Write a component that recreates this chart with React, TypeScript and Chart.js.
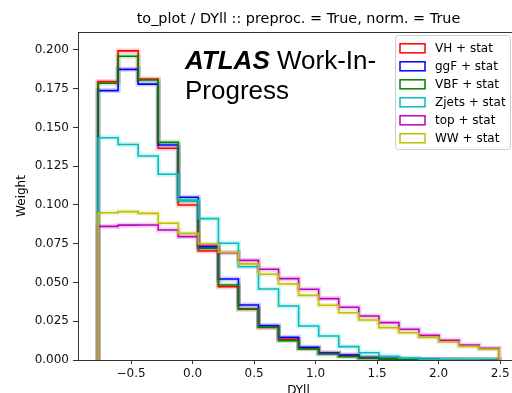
import React, { useEffect, useRef } from "react";
import { Chart, registerables } from "chart.js";

Chart.register(...registerables);

const BIN_EDGES = [-0.768, -0.605, -0.442, -0.279, -0.116, 0.047, 0.21, 0.373, 0.536, 0.699, 0.862, 1.025, 1.188, 1.351, 1.514, 1.677, 1.84, 2.003, 2.166, 2.329, 2.492];

const VH = [0.1796, 0.1994, 0.1813, 0.1366, 0.1, 0.0703, 0.0473, 0.033, 0.021, 0.0133, 0.0075, 0.0045, 0.003, 0.0015, 0.0009, 0.0005, 0.0003, 0.0002, 0.0001, 0.0001];
const GGF = [0.1738, 0.1875, 0.178, 0.1387, 0.105, 0.073, 0.0523, 0.0355, 0.0222, 0.0146, 0.0082, 0.0045, 0.0032, 0.0016, 0.0009, 0.0005, 0.0003, 0.0002, 0.0001, 0.0001];
const VBF = [0.1785, 0.196, 0.1806, 0.1404, 0.1028, 0.072, 0.0484, 0.0327, 0.0211, 0.0125, 0.0072, 0.0039, 0.0022, 0.0012, 0.0007, 0.0004, 0.0002, 0.0001, 0.0001, 0.0];
const ZJETS = [0.1434, 0.139, 0.1316, 0.1198, 0.103, 0.0912, 0.0753, 0.0602, 0.0458, 0.0348, 0.0219, 0.0155, 0.0086, 0.0047, 0.0024, 0.0012, 0.0005, 0.0003, 0.0001, 0.0];
const TOP = [0.0862, 0.087, 0.0871, 0.0839, 0.0796, 0.0742, 0.0692, 0.0643, 0.0585, 0.0525, 0.0456, 0.0396, 0.034, 0.0284, 0.0241, 0.0198, 0.0159, 0.0127, 0.0097, 0.0075];
const WW = [0.095, 0.0957, 0.0946, 0.0882, 0.0817, 0.0748, 0.0695, 0.062, 0.0553, 0.049, 0.0417, 0.0353, 0.0305, 0.0258, 0.0209, 0.0176, 0.0146, 0.0116, 0.0088, 0.0071];

const SERIES_LABELS = ["VH + stat", "ggF + stat", "VBF + stat", "Zjets + stat", "top + stat", "WW + stat"];
const SERIES_VALUES = [VH, GGF, VBF, ZJETS, TOP, WW];
const SERIES_COLORS = ["#ff0000", "#0000ff", "#008000", "#00bfbf", "#bf00bf", "#bfbf00"];
const SERIES_BANDS = ["rgba(255,0,0,0.18)", "rgba(0,0,255,0.18)", "rgba(0,128,0,0.18)", "rgba(0,191,191,0.18)", "rgba(191,0,191,0.18)", "rgba(191,191,0,0.18)"];

const TITLE = "to_plot / DYll :: preproc. = True, norm. = True";
const X_LABEL = "DYll";
const Y_LABEL = "Weight";

function stepPoints(vals: number[]) {
  const pts: { x: number; y: number }[] = [{ x: BIN_EDGES[0], y: 0 }];
  vals.forEach((v, i) => pts.push({ x: BIN_EDGES[i], y: v }));
  pts.push({ x: BIN_EDGES[BIN_EDGES.length - 1], y: 0 });
  return pts;
}

const FONT = "'DejaVu Sans', sans-serif";

const decorPlugin = {
  id: "decor",
  afterDraw(chart: any) {
    const { ctx, chartArea } = chart;
    const { left, right, top, bottom } = chartArea;
    ctx.save();
    // frame
    ctx.strokeStyle = "#333";
    ctx.lineWidth = 1;
    ctx.beginPath();
    ctx.moveTo(left, top + 0.5);
    ctx.lineTo(right, top + 0.5);
    ctx.moveTo(right - 0.5, top);
    ctx.lineTo(right - 0.5, bottom);
    ctx.stroke();

    // title
    ctx.fillStyle = "#000";
    ctx.font = `14.4px ${FONT}`;
    ctx.textAlign = "center";
    ctx.textBaseline = "alphabetic";
    ctx.fillText(TITLE, (left + right) / 2, 23);

    // x label
    ctx.font = `12px ${FONT}`;
    ctx.fillText(X_LABEL, (left + right) / 2, 394);

    // y label
    ctx.save();
    ctx.translate(22, (top + bottom) / 2);
    ctx.rotate(-Math.PI / 2);
    ctx.textBaseline = "middle";
    ctx.fillText(Y_LABEL, 0, 0);
    ctx.restore();

    // ATLAS label
    ctx.textAlign = "left";
    ctx.textBaseline = "alphabetic";
    ctx.font = "italic bold 26px 'Liberation Sans', Arial, sans-serif";
    ctx.fillText("ATLAS", 185, 69);
    const w = ctx.measureText("ATLAS ").width;
    ctx.font = "26px 'Liberation Sans', Arial, sans-serif";
    ctx.fillText("Work-In-", 185 + w, 69);
    ctx.fillText("Progress", 185, 99);

    // legend
    const lx = 395.5, ly = 35.5, lw = 115, lh = 114;
    ctx.fillStyle = "rgba(255,255,255,0.8)";
    ctx.strokeStyle = "#cccccc";
    ctx.lineWidth = 1;
    ctx.beginPath();
    const r = 3;
    ctx.moveTo(lx + r, ly);
    ctx.lineTo(lx + lw - r, ly);
    ctx.quadraticCurveTo(lx + lw, ly, lx + lw, ly + r);
    ctx.lineTo(lx + lw, ly + lh - r);
    ctx.quadraticCurveTo(lx + lw, ly + lh, lx + lw - r, ly + lh);
    ctx.lineTo(lx + r, ly + lh);
    ctx.quadraticCurveTo(lx, ly + lh, lx, ly + lh - r);
    ctx.lineTo(lx, ly + r);
    ctx.quadraticCurveTo(lx, ly, lx + r, ly);
    ctx.closePath();
    ctx.fill();
    ctx.stroke();

    ctx.font = `12px ${FONT}`;
    ctx.textBaseline = "middle";
    SERIES_LABELS.forEach((lab, i) => {
      const cy = 48.3 + i * 18;
      ctx.fillStyle = "#fff";
      ctx.fillRect(400, cy - 4.5, 25, 9);
      ctx.strokeStyle = SERIES_COLORS[i];
      ctx.lineWidth = 1.5;
      ctx.strokeRect(400, cy - 4.5, 25, 9);
      ctx.fillStyle = "#000";
      ctx.fillText(lab, 435, cy + 0.5);
    });
    ctx.restore();
  },
};

export default function App() {
  const ref = useRef<HTMLCanvasElement>(null);
  useEffect(() => {
    if (!ref.current) return;
    const bandSets = SERIES_VALUES.map((vals, i) => ({
      label: SERIES_LABELS[i] + " band",
      data: stepPoints(vals),
      borderColor: SERIES_BANDS[i],
      borderWidth: 5,
      stepped: true,
      pointRadius: 0,
      fill: false,
      order: 20 + (6 - i),
    }));
    const lineSets = SERIES_VALUES.map((vals, i) => ({
      label: SERIES_LABELS[i],
      data: stepPoints(vals),
      borderColor: SERIES_COLORS[i],
      borderWidth: 1.6,
      stepped: true,
      pointRadius: 0,
      fill: false,
      order: 6 - i,
    }));
    const tickFont = { family: FONT, size: 12 };
    const chart = new Chart(ref.current, {
      type: "line",
      data: { datasets: [...bandSets, ...lineSets] as any },
      options: {
        responsive: false,
        devicePixelRatio: 1,
        animation: false,
        parsing: true as any,
        layout: { padding: { left: 0, top: 32, right: 5, bottom: 0 } },
        plugins: { legend: { display: false }, title: { display: false }, tooltip: { enabled: false } },
        scales: {
          x: {
            type: "linear",
            min: -0.931,
            max: 2.653,
            afterFit: (s: any) => { s.height = 33; },
            ticks: {
              stepSize: 0.5,
              includeBounds: false,
              autoSkip: false,
              maxRotation: 0,
              padding: 3,
              color: "#111",
              font: tickFont,
              callback: (v: any) => Number(v).toFixed(1).replace("-", "\u2212"),
            },
            grid: { display: true, drawOnChartArea: false, drawTicks: true, tickLength: 4, color: "#333" },
            border: { display: true, color: "#333", width: 1 },
          },
          y: {
            type: "linear",
            min: 0,
            max: 0.2116,
            afterFit: (s: any) => { s.width = 78; },
            ticks: {
              stepSize: 0.025,
              includeBounds: false,
              autoSkip: false,
              padding: 4,
              color: "#111",
              font: tickFont,
              callback: (v: any) => Number(v).toFixed(3),
            },
            grid: { display: true, drawOnChartArea: false, drawTicks: true, tickLength: 5, color: "#333" },
            border: { display: true, color: "#333", width: 1 },
          },
        },
      },
      plugins: [decorPlugin],
    });
    return () => chart.destroy();
  }, []);
  return (
    <div style={{ position: "fixed", left: 0, top: 0, width: 512, height: 393, overflow: "hidden", background: "#fff" }}>
      <canvas ref={ref} width={524} height={393} style={{ display: "block", width: 524, height: 393 }} />
    </div>
  );
}
